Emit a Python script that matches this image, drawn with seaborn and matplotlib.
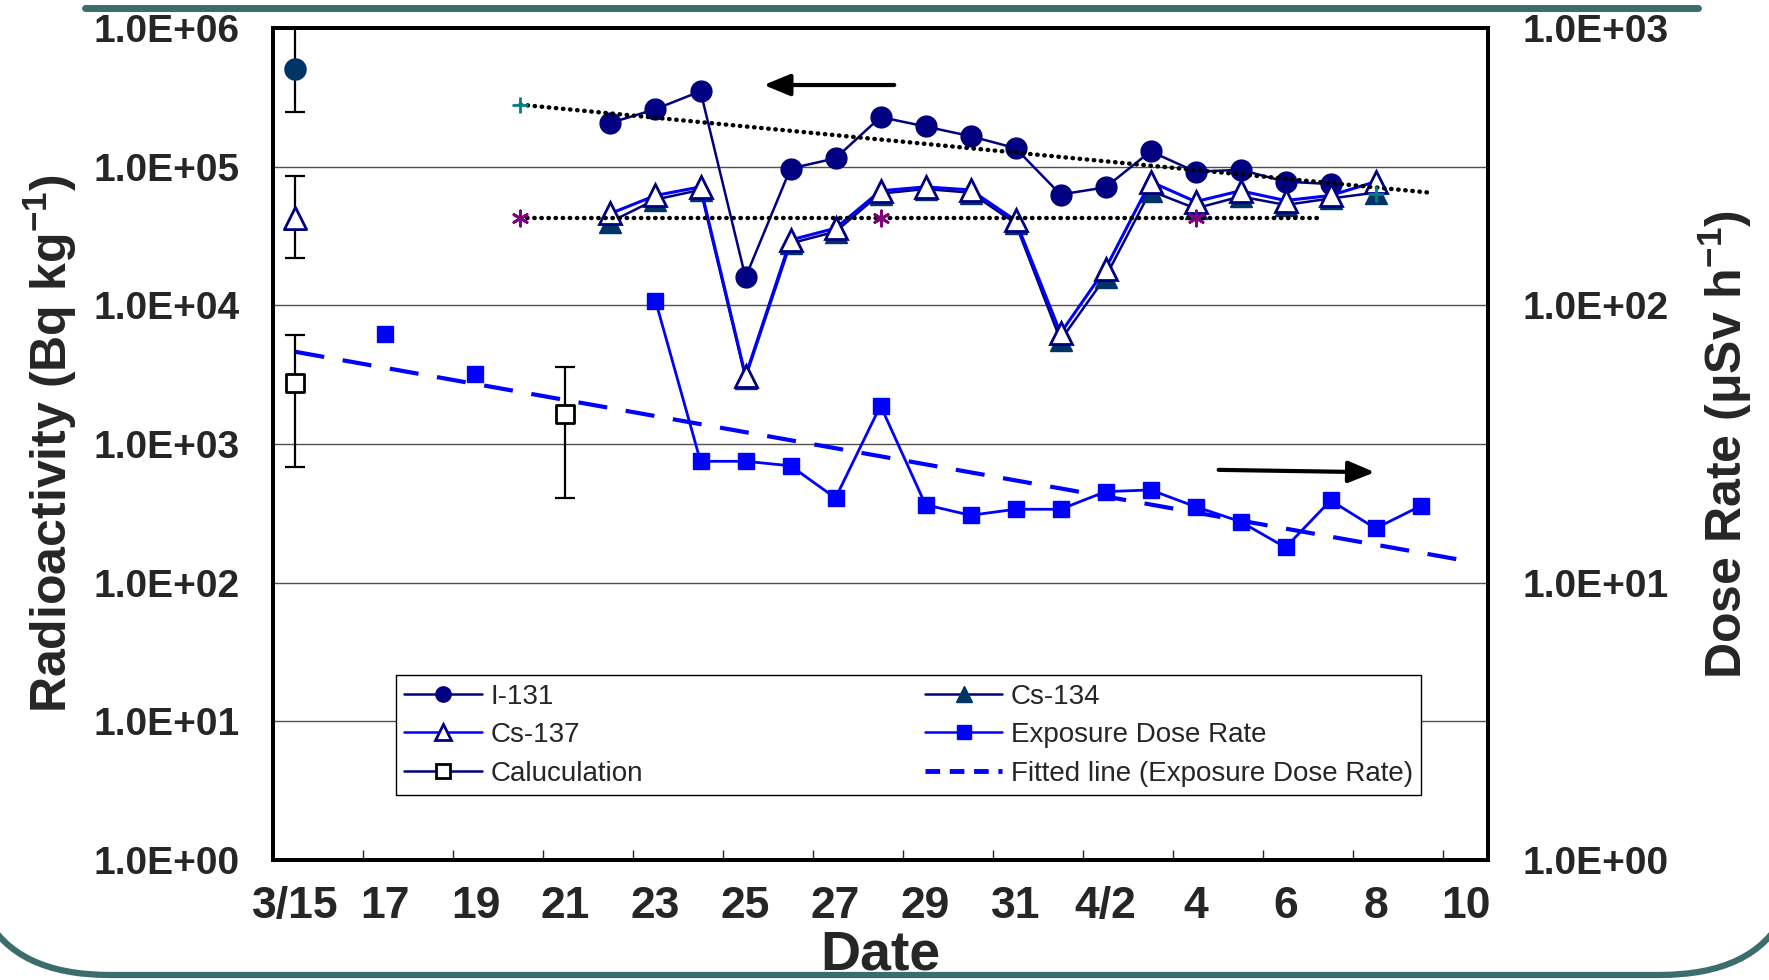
import numpy as np
import seaborn as sns
import matplotlib.pyplot as plt
from matplotlib.lines import Line2D
from matplotlib.path import Path
from matplotlib.patches import PathPatch
from matplotlib.ticker import FixedLocator, FuncFormatter, NullLocator

# day index: 0 = 3/15 ... 26 = 4/10
tick_days = list(range(0, 27, 2))
tick_labels = ["3/15", "17", "19", "21", "23", "25", "27", "29", "31",
               "4/2", "4", "6", "8", "10"]

# radioactivity (Bq/kg), left axis
i131_days = list(range(7, 24))
i131 = [2.07e5, 2.6e5, 3.5e5, 1.59e4, 9.7e4, 1.15e5, 2.28e5, 1.95e5, 1.66e5,
        1.36e5, 6.3e4, 7.1e4, 1.29e5, 9.2e4, 9.5e4, 7.8e4, 7.5e4]
cs_days = list(range(7, 25))
cs134 = [4.0e4, 5.8e4, 6.8e4, 3.0e3, 2.8e4, 3.4e4, 6.4e4, 6.9e4, 6.5e4,
         3.9e4, 5.6e3, 1.6e4, 6.7e4, 5.0e4, 6.1e4, 5.3e4, 5.9e4, 6.5e4]
cs137 = [4.6e4, 6.2e4, 7.15e4, 3.1e3, 2.96e4, 3.6e4, 6.7e4, 7.15e4, 6.8e4,
         4.1e4, 6.3e3, 1.84e4, 7.8e4, 5.6e4, 6.7e4, 5.7e4, 6.2e4, 7.8e4]

# 3/15 values with ranges
first_day = [0]
i131_first = [5.1e5]
i131_first_lo = [2.5e5]
i131_first_hi = [1.0e6]
cs137_first = [4.3e4]
cs137_first_lo = [2.2e4]
cs137_first_hi = [8.6e4]

calc_days = [0, 6]
calc = [2.76e3, 1.65e3]
calc_lo = [680, 410]
calc_hi = [6.1e3, 3.6e3]

# dotted trend lines and their points
plus_days = [5, 24]
plus_vals = [2.8e5, 6.4e4]
upper_trend_days = [5, 25.2]
upper_trend = [2.8e5, 6.5e4]
star_days = [5, 13, 20]
star_vals = [4.3e4, 4.3e4, 4.3e4]
lower_trend_days = [5, 22.7]
lower_trend = [4.3e4, 4.3e4]

# exposure dose rate (uSv/h), right axis
edr_iso_days = [2, 4]
edr_iso = [79, 56.5]
edr_days = list(range(8, 26))
edr = [104, 27.4, 27.4, 26.4, 20.2, 43.5, 19.1, 17.5, 18.4, 18.4, 21.3, 21.6,
       18.8, 16.6, 13.4, 19.8, 15.7, 18.9]
fit_days = [0, 26]
fit = [68, 12]

NAVY = "#000080"
DARK = "#003366"
BLUE = "#0000FF"
TEAL = "#3a6d6b"

sns.set_theme(style="white")
plt.rcParams["font.family"] = ["Liberation Sans", "DejaVu Sans"]
plt.rcParams["mathtext.default"] = "regular"

fig = plt.figure(figsize=(17.69, 9.80), dpi=100)
ax = fig.add_axes([0.1543, 0.1224, 0.6869, 0.849])
ax.set_yscale("log")

ms = 15
mt = 16
sns.lineplot(x=i131_days, y=i131, ax=ax, color=NAVY, lw=1.8, marker="o",
             markersize=ms, mfc=NAVY, mec=NAVY, mew=1, zorder=3)
sns.lineplot(x=cs_days, y=cs134, ax=ax, color=NAVY, lw=1.8, marker="^",
             markersize=mt, mfc=DARK, mec=DARK, mew=1, zorder=3.1)
sns.lineplot(x=cs_days, y=cs137, ax=ax, color=BLUE, lw=2.2, marker="^",
             markersize=mt, mfc="white", mec=NAVY, mew=2, zorder=3.2)

ax.errorbar(first_day, i131_first,
            yerr=[np.subtract(i131_first, i131_first_lo), np.subtract(i131_first_hi, i131_first)],
            fmt="none", ecolor="black", elinewidth=1.6, capsize=7, capthick=1.6, zorder=2)
ax.errorbar(first_day, cs137_first,
            yerr=[np.subtract(cs137_first, cs137_first_lo), np.subtract(cs137_first_hi, cs137_first)],
            fmt="none", ecolor="black", elinewidth=1.6, capsize=7, capthick=1.6, zorder=2)
ax.errorbar(calc_days, calc,
            yerr=[np.subtract(calc, calc_lo), np.subtract(calc_hi, calc)],
            fmt="none", ecolor="black", elinewidth=1.6, capsize=7, capthick=1.6, zorder=2)
sns.scatterplot(x=first_day, y=i131_first, ax=ax, marker="o", s=ms ** 2,
                color=DARK, edgecolor=DARK, zorder=3)
sns.scatterplot(x=first_day, y=cs137_first, ax=ax, marker="^", s=mt ** 2,
                color="white", edgecolor=NAVY, linewidth=2, zorder=3)
sns.scatterplot(x=calc_days, y=calc, ax=ax, marker="s", s=13 ** 2,
                color="white", edgecolor="black", linewidth=2, zorder=3)

dot = dict(color="black", lw=3.2, dash_capstyle="round", zorder=4)
ax.plot(upper_trend_days, upper_trend, linestyle=(0, (0.1, 1.5)), **dot)
ax.plot(lower_trend_days, lower_trend, linestyle=(0, (0.1, 1.5)), **dot)
sns.scatterplot(x=plus_days, y=plus_vals, ax=ax, marker="+", s=130,
                color="#008080", linewidth=2, zorder=4.5)
sns.scatterplot(x=star_days, y=star_vals, ax=ax, marker=(6, 2, 0), s=120,
                color="#800080", edgecolor="#800080", linewidth=2, zorder=4.5)

ax.set_xlim(-0.5, 26.5)
ax.set_ylim(1, 1e6)
ax.yaxis.set_major_locator(FixedLocator([10.0 ** k for k in range(7)]))
ax.yaxis.set_minor_locator(NullLocator())
ax.yaxis.set_major_formatter(FuncFormatter(lambda v, p: f"{v:.1E}"))
ax.grid(axis="y", color="#505050", lw=1.0)
ax.set_xticks(tick_days)
ax.set_xticklabels(tick_labels)
ax.set_xticks(np.arange(1.5, 26, 2), minor=True)
ax.tick_params(axis="x", which="major", length=0, pad=19, labelsize=32)
ax.tick_params(axis="x", which="minor", direction="in", length=7, width=1, bottom=True)
ax.tick_params(axis="y", length=0, pad=24, labelsize=28)
for lab in ax.get_xticklabels() + ax.get_yticklabels():
    lab.set_fontweight("bold")
for sp in ax.spines.values():
    sp.set_linewidth(2.8)
    sp.set_color("black")

ax.set_xlabel("Date", fontsize=40, fontweight="bold")
ax.xaxis.set_label_coords(0.5, -0.083)
ax.set_ylabel("Radioactivity (Bq kg$^{-1}$)", fontsize=36, fontweight="bold")
ax.yaxis.set_label_coords(-0.16, 0.5)

ax2 = ax.twinx()
ax2.set_yscale("log")
sns.lineplot(x=edr_days, y=edr, ax=ax2, color=BLUE, lw=2, marker="s",
             markersize=12, mfc=BLUE, mec=BLUE, mew=1, zorder=3)
sns.scatterplot(x=edr_iso_days, y=edr_iso, ax=ax2, marker="s", s=12 ** 2,
                color=BLUE, edgecolor=BLUE, zorder=3)
sns.lineplot(x=fit_days, y=fit, ax=ax2, color=BLUE, lw=3, zorder=2.5,
             linestyle=(0, (7, 4.5)))
ax2.set_ylim(1, 1e3)
ax2.set_xlim(-0.5, 26.5)
ax2.yaxis.set_major_locator(FixedLocator([10.0 ** k for k in range(4)]))
ax2.yaxis.set_minor_locator(NullLocator())
ax2.yaxis.set_major_formatter(FuncFormatter(lambda v, p: f"{v:.1E}"))
ax2.tick_params(axis="y", length=0, pad=25, labelsize=28)
for lab in ax2.get_yticklabels():
    lab.set_fontweight("bold")
for sp in ax2.spines.values():
    sp.set_linewidth(2.8)
    sp.set_color("black")
ax2.set_ylabel("Dose Rate ($\\mu$Sv h$^{-1}$)", fontsize=36, fontweight="bold")
ax2.yaxis.set_label_coords(1.172, 0.5)

arrow = dict(arrowstyle="-|>,head_length=0.8,head_width=0.33",
             color="black", lw=3, mutation_scale=20)
ax.annotate("", xy=(0.4016, 0.9315), xytext=(0.5136, 0.9315), xycoords="axes fraction",
            arrowprops=arrow)
ax2.annotate("", xy=(0.909, 0.466), xytext=(0.776, 0.469), xycoords="axes fraction",
             arrowprops=arrow)

handles = [
    Line2D([], [], color=NAVY, lw=1.8, marker="o", markersize=11, mfc=NAVY, mec=NAVY),
    Line2D([], [], color=BLUE, lw=1.8, marker="^", markersize=12, mfc="white", mec=NAVY, mew=2),
    Line2D([], [], color=NAVY, lw=1.8, marker="s", markersize=10, mfc="white", mec="black", mew=2),
    Line2D([], [], color=NAVY, lw=1.8, marker="^", markersize=12, mfc=DARK, mec=DARK),
    Line2D([], [], color=BLUE, lw=1.8, marker="s", markersize=10, mfc=BLUE, mec=BLUE),
    Line2D([], [], color=BLUE, lw=3.5, linestyle=(0, (3, 2))),
]
labels = ["I-131", "Cs-137", "Caluculation", "Cs-134", "Exposure Dose Rate",
          "Fitted line (Exposure Dose Rate)"]
leg = ax2.legend(handles, labels, ncol=2, loc="upper left",
                 bbox_to_anchor=(0.101, 0.222, 0.844, 0.0), mode="expand",
                 borderaxespad=0, frameon=True, fancybox=False, framealpha=1,
                 edgecolor="black", fontsize=20, handlelength=2.8,
                 handletextpad=0.3, labelspacing=0.45, borderpad=0.3)
leg.get_frame().set_linewidth(1.0)
leg.set_zorder(10)

# slide frame decoration
W, H = 1769, 980
fig.add_artist(Line2D([85 / W, 1698 / W], [1 - 8.5 / H] * 2, transform=fig.transFigure,
                      color=TEAL, lw=5))
verts = [(-15, 915), (15, 975), (110, 975), (1659, 975), (1754, 975), (1784, 915)]
codes = [Path.MOVETO, Path.CURVE3, Path.CURVE3, Path.LINETO, Path.CURVE3, Path.CURVE3]
frame = Path([(x / W, 1 - y / H) for x, y in verts], codes)
fig.add_artist(PathPatch(frame, transform=fig.transFigure, fill=False,
                         edgecolor=TEAL, lw=4.5))

fig.savefig("out.png", dpi=100)
